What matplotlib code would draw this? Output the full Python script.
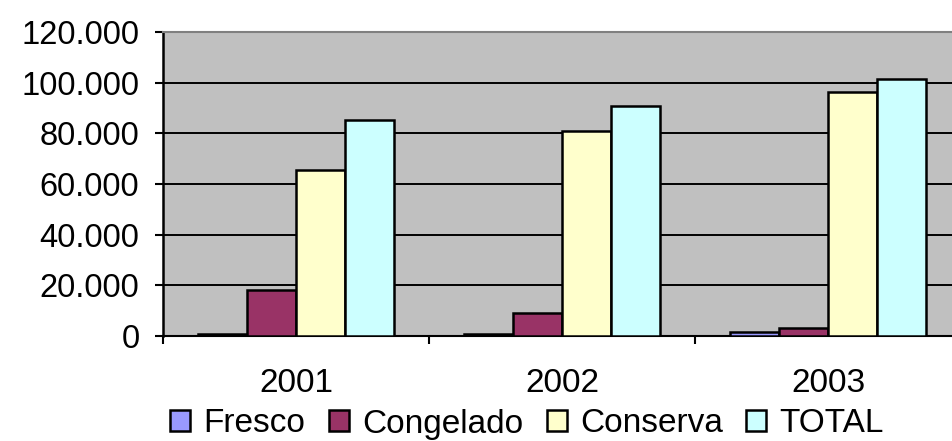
import matplotlib
matplotlib.use("Agg")
import matplotlib.pyplot as plt
import numpy as np
from matplotlib.ticker import FuncFormatter

plt.rcParams['font.family'] = ['Liberation Sans', 'DejaVu Sans']

years = ["2001", "2002", "2003"]
series = ["Fresco", "Congelado", "Conserva", "TOTAL"]
fresco = [900, 700, 1700]
congelado = [18100, 9200, 3050]
conserva = [65700, 80800, 96200]
total = [85400, 90700, 101500]
colors = ["#9999FF", "#993366", "#FFFFCC", "#CCFFFF"]

values = [fresco, congelado, conserva, total]

fig = plt.figure(figsize=(9.52, 4.41), dpi=100)
ax = fig.add_axes([163/952, 1-336/441, 798/952, (336-32)/441])
ax.set_facecolor("#C0C0C0")

x = np.arange(len(years))
w = 0.185
for i, (name, vals, c) in enumerate(zip(series, values, colors)):
    ax.bar(x + (i - 1.5) * w, vals, w, color=c, edgecolor="black", linewidth=1.8,
           label=name, zorder=3)

ax.set_xlim(-0.5, 2.5)
ax.set_ylim(0, 120000)
ax.set_yticks(np.arange(0, 120001, 20000))
ax.yaxis.set_major_formatter(FuncFormatter(lambda v, p: "0" if v == 0 else f"{int(v):,}".replace(",", ".")))
ax.yaxis.grid(True, color="black", linewidth=1.4, zorder=1)
ax.set_axisbelow(True)

ax.set_xticks([-0.5, 0.5, 1.5, 2.5])
ax.set_xticklabels([])
ax.set_xticks(x, minor=True)
ax.set_xticklabels(years, minor=True)
ax.tick_params(axis="x", which="minor", length=0, pad=23, labelsize=24)
ax.tick_params(axis="x", which="major", length=6, width=1.5, direction="out", color="black")
ax.tick_params(axis="y", length=6, width=1.5, direction="out", labelsize=23.5, pad=11)

ax.spines["left"].set_linewidth(1.8)
ax.spines["left"].set_color("black")
ax.spines["bottom"].set_linewidth(1.5)
ax.spines["bottom"].set_color("black")
ax.spines["top"].set_color("#808080")
ax.spines["top"].set_linewidth(1.5)
ax.spines["right"].set_visible(False)

leg = fig.legend(loc="center", bbox_to_anchor=(527/952, 1-424/441), ncol=4, frameon=False,
                 fontsize=24, handlelength=0.6, handleheight=0.6, handletextpad=0.4,
                 columnspacing=0.7, borderpad=0, borderaxespad=0)
for h in leg.legend_handles:
    h.set_linewidth(1.8)

fig.savefig("out.png", dpi=100)
